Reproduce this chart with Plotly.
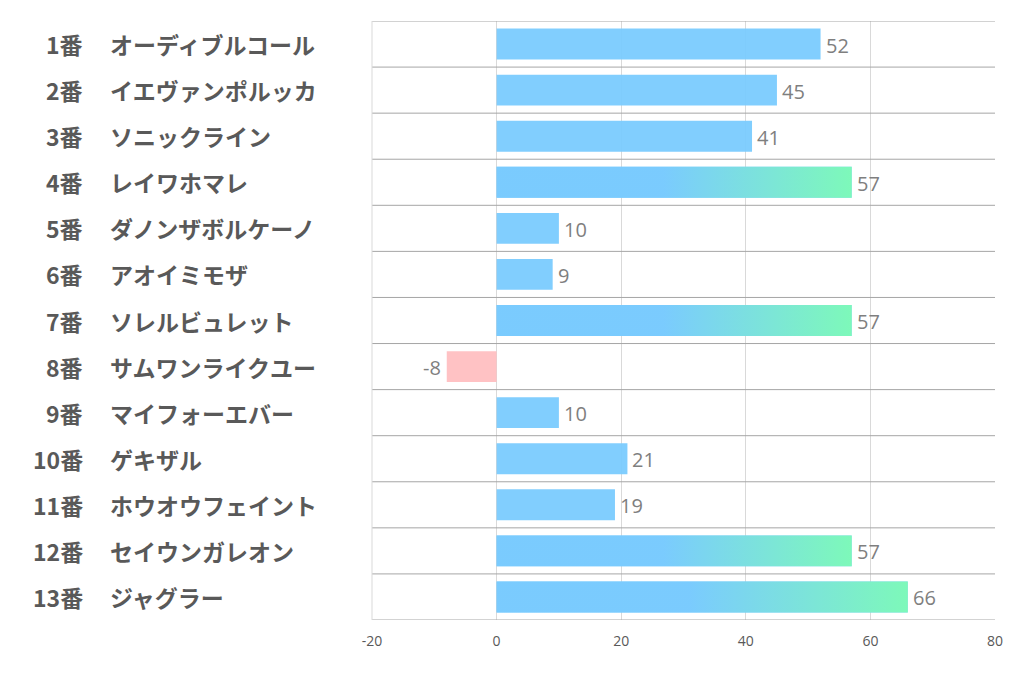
import plotly.graph_objects as go

numbers = ["1番", "2番", "3番", "4番", "5番", "6番", "7番", "8番", "9番", "10番", "11番", "12番", "13番"]
names = ["オーディブルコール", "イエヴァンポルッカ", "ソニックライン", "レイワホマレ", "ダノンザボルケーノ",
         "アオイミモザ", "ソレルビュレット", "サムワンライクユー", "マイフォーエバー", "ゲキザル",
         "ホウオウフェイント", "セイウンガレオン", "ジャグラー"]
values = [52, 45, 41, 57, 10, 9, 57, -8, 10, 21, 19, 57, 66]
x_ticks = [-20, 0, 20, 40, 60, 80]

BLUE = "#7ACBFE"
GREEN = "#7DFBB6"
PINK = "#FFBFC1"
BAR_W = 0.67
HIGHLIGHT = 55

ys = list(range(len(values)))
colors = [PINK if v < 0 else BLUE for v in values]

fig = go.Figure()
fig.add_trace(go.Bar(
    x=values, y=ys, orientation="h", width=BAR_W,
    marker=dict(color=colors, line=dict(width=0), opacity=0.95),
    hoverinfo="skip",
))

for y, v in zip(ys, values):
    if v >= HIGHLIGHT:
        fig.add_trace(go.Scatter(
            x=[0, v, v, 0, 0],
            y=[y - BAR_W / 2, y - BAR_W / 2, y + BAR_W / 2, y + BAR_W / 2, y - BAR_W / 2],
            mode="lines", line=dict(width=0), fill="toself",
            fillgradient=dict(type="horizontal",
                              colorscale=[[0, BLUE], [0.47, BLUE], [1, GREEN]]),
            opacity=0.95,
            hoverinfo="skip", showlegend=False,
        ))

# row separators
shapes = []
for k in range(len(values) + 1):
    shapes.append(dict(type="line", xref="paper", x0=0, x1=1, yref="y",
                       y0=k - 0.5, y1=k - 0.5, line=dict(color="#A6A6A6", width=1), layer="above"))

PLOT_L, PLOT_W = 372, 623
annotations = []
label_font = dict(family="Noto Sans CJK JP", size=23, color="#595959", weight="bold")
for y, num, name, v in zip(ys, numbers, names, values):
    annotations.append(dict(xref="paper", yref="y", x=(85 - PLOT_L) / PLOT_W, y=y, text=num,
                            showarrow=False, xanchor="right", font=label_font))
    annotations.append(dict(xref="paper", yref="y", x=(108 - PLOT_L) / PLOT_W, y=y, text=name,
                            showarrow=False, xanchor="left", font=label_font))
    annotations.append(dict(xref="x", yref="y", x=v, y=y, text=str(v), showarrow=False,
                            xanchor="left" if v >= 0 else "right", xshift=3 if v >= 0 else -4,
                            yshift=-1,
                            font=dict(family="Open Sans", size=20, color="#7F7F7F")))

fig.update_layout(
    width=1022, height=678,
    margin=dict(l=364, r=35, t=13, b=66),
    paper_bgcolor="white", plot_bgcolor="white",
    showlegend=False,
    xaxis=dict(range=[-20, 80], tickvals=x_ticks, ticktext=[str(t) for t in x_ticks],
               showgrid=True, gridcolor="#D9D9D9",
               gridwidth=1, zeroline=True, zerolinecolor="#D9D9D9", zerolinewidth=1,
               showline=False, ticks="", ticklabelstandoff=11,
               tickfont=dict(family="Open Sans", size=14, color="#595959")),
    yaxis=dict(range=[len(values) - 0.5, -0.5], showticklabels=False, showgrid=False,
               zeroline=False, showline=False),
    shapes=shapes + [dict(type="line", xref="paper", yref="paper", x0=0, x1=0, y0=0, y1=1,
                          line=dict(color="#D9D9D9", width=1))],
    annotations=annotations,
)

fig.write_html("out.html")
